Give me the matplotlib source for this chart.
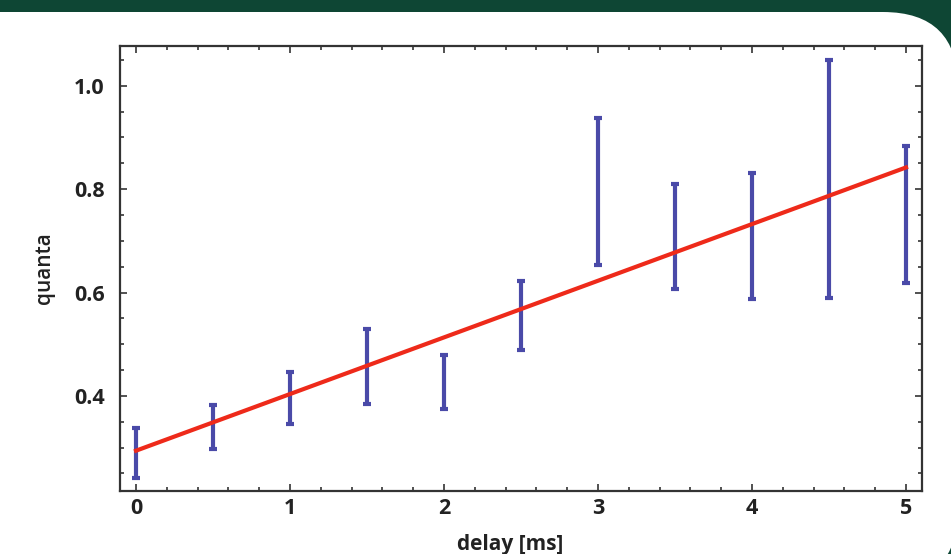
import matplotlib
matplotlib.use("Agg")
import matplotlib.pyplot as plt
from matplotlib.patches import FancyBboxPatch
from matplotlib.ticker import MultipleLocator
from matplotlib.transforms import IdentityTransform
import numpy as np

# Data
delay = [0.0, 0.5, 1.0, 1.5, 2.0, 2.5, 3.0, 3.5, 4.0, 4.5, 5.0]
err_low = [0.242, 0.298, 0.346, 0.385, 0.375, 0.489, 0.654, 0.606, 0.588, 0.590, 0.619]
err_high = [0.338, 0.383, 0.446, 0.529, 0.479, 0.622, 0.938, 0.810, 0.831, 1.050, 0.883]
fit_x = [0.0, 5.0]
fit_y = [0.294, 0.842]
xticks = [0, 1, 2, 3, 4, 5]
yticks = [0.4, 0.6, 0.8, 1.0]

plt.rcParams['font.family'] = ['Open Sans', 'DejaVu Sans']

W, H = 951, 554
fig = plt.figure(figsize=(W / 100, H / 100), dpi=100)
fig.patch.set_facecolor('#0e4634')

# white rounded panel (pixel coordinates, origin bottom-left)
panel = FancyBboxPatch((-100, -30), 1058, H - 12 + 30,
                       boxstyle="round,pad=0,rounding_size=75",
                       transform=IdentityTransform(), facecolor='white',
                       edgecolor='none', zorder=-10)
fig.patches.append(panel)

ax = fig.add_axes([120 / W, 1 - 491 / H, (922 - 120) / W, (491 - 46) / H])
ax.set_zorder(5)
ax.set_facecolor('white')

lo = np.array(err_low)
hi = np.array(err_high)
mid = (lo + hi) / 2
ax.errorbar(delay, mid, yerr=[mid - lo, hi - mid], fmt='none',
            ecolor='#4a4aa8', elinewidth=3, capsize=3, capthick=3, zorder=2)
ax.plot(fit_x, fit_y, color='#ee2a1a', lw=3, zorder=3)

ax.set_xlim(-0.104, 5.104)
ax.set_ylim(0.216, 1.077)
ax.set_xticks(xticks)
ax.set_yticks(yticks)
ax.set_xticklabels([str(t) for t in xticks])
ax.set_yticklabels([f"{t:.1f}" for t in yticks])
ax.xaxis.set_minor_locator(MultipleLocator(0.2))
ax.yaxis.set_minor_locator(MultipleLocator(0.05))
ax.tick_params(which='both', direction='in', top=True, right=True,
               width=1.2, color='#333333')
ax.tick_params(which='major', length=5, labelsize=15.5)
ax.tick_params(axis='y', which='major', pad=11)
ax.tick_params(axis='x', which='major', pad=5)
ax.tick_params(which='minor', length=3)
for lab in ax.get_xticklabels() + ax.get_yticklabels():
    lab.set_fontweight('bold')
    lab.set_color('#222222')
for s in ax.spines.values():
    s.set_linewidth(1.6)
    s.set_color('#333333')

ax.set_xlabel('delay [ms]', fontsize=15, fontweight='bold', color='#222222')
ax.xaxis.set_label_coords(0.486, -0.097)
ax.set_ylabel('quanta', fontsize=15, fontweight='semibold', labelpad=14,
              color='#222222')

fig.savefig('out.png', dpi=100, facecolor=fig.get_facecolor())
